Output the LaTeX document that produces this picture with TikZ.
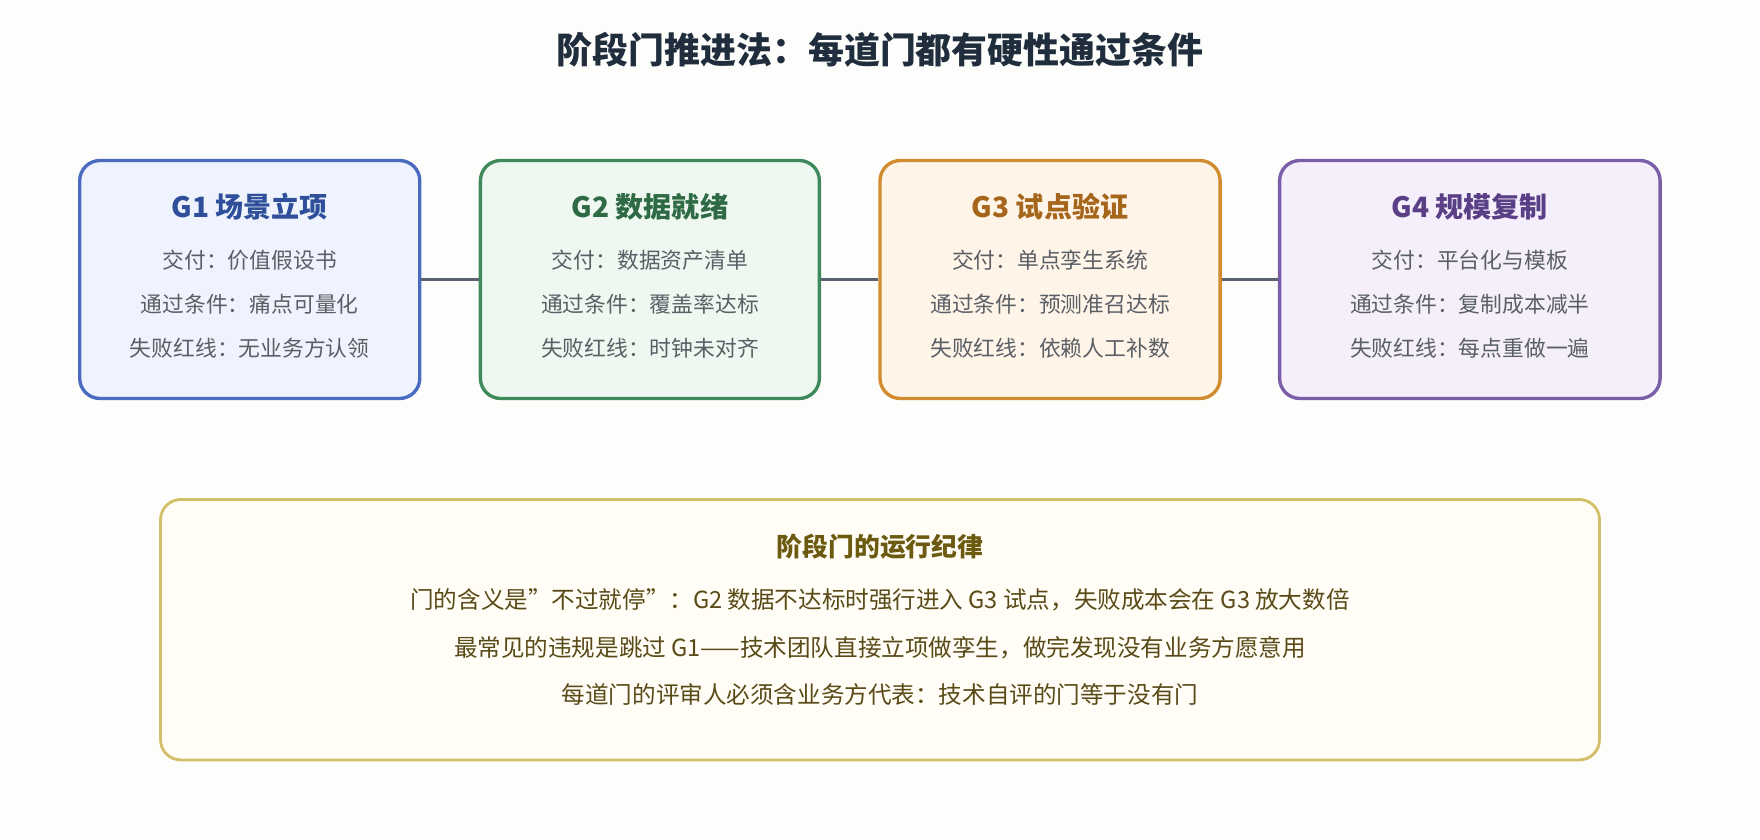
\documentclass[tikz,border=0pt]{standalone}
\usepackage{fontspec}
\setmainfont{Noto Sans CJK SC}
\usetikzlibrary{positioning}
\definecolor{bgc}{HTML}{FDFDFB}
\definecolor{titc}{HTML}{1F2D3D}
\definecolor{txtc}{HTML}{5A5F66}
\definecolor{linkc}{HTML}{5A6272}
\definecolor{fa}{HTML}{EEF3FD}\definecolor{da}{HTML}{4A6BBF}\definecolor{ta}{HTML}{2F4F9A}
\definecolor{fb}{HTML}{EEF8F1}\definecolor{db}{HTML}{3F8A5C}\definecolor{tb}{HTML}{2E6B45}
\definecolor{fc}{HTML}{FFF4E8}\definecolor{dc}{HTML}{D08C2E}\definecolor{tc}{HTML}{A5651A}
\definecolor{fd}{HTML}{F4EFFA}\definecolor{dd}{HTML}{7B5EA8}\definecolor{td}{HTML}{5B3F86}
\definecolor{fn}{HTML}{FFFDF5}\definecolor{dn}{HTML}{D4BF6A}\definecolor{tn}{HTML}{6B5A10}\definecolor{nn}{HTML}{5A4A18}
\tikzset{
  gate/.style={draw, line width=3pt, rounded corners=18pt, minimum height=212pt, inner sep=0pt},
  gtitle/.style={font=\fontsize{25}{29}\selectfont\bfseries},
  gline/.style={font=\fontsize{19.4}{23}\selectfont, text=txtc},
  link/.style={draw=linkc, line width=3pt},
  nline/.style={font=\fontsize{21}{25}\selectfont, text=nn}
}
\begin{document}
\begin{tikzpicture}[x=1pt,y=-1pt]
\fill[bgc] (0,0) rectangle (1568,748);
\useasboundingbox (0,0) rectangle (1568,748);

% Title
\node[font=\fontsize{32}{38}\selectfont\bfseries, text=titc] (title) at (784,44) {阶段门推进法：每道门都有硬性通过条件};

% Gate 1
\node[gate, draw=da, fill=fa, minimum width=303pt] (g1) at (222.5,249) {};
\node[gtitle, text=ta] (g1t) at (222.5,184) {G1 场景立项};
\node[gline] (g1a) at (222.5,232) {交付：价值假设书};
\node[gline] (g1b) at (222.5,271) {通过条件：痛点可量化};
\node[gline] (g1c) at (222.5,310) {失败红线：无业务方认领};

% Gate 2
\node[gate, draw=db, fill=fb, minimum width=302pt] (g2) at (579,249) {};
\node[gtitle, text=tb] (g2t) at (579,184) {G2 数据就绪};
\node[gline] (g2a) at (579,232) {交付：数据资产清单};
\node[gline] (g2b) at (579,271) {通过条件：覆盖率达标};
\node[gline] (g2c) at (579,310) {失败红线：时钟未对齐};

% Gate 3
\node[gate, draw=dc, fill=fc, minimum width=303pt] (g3) at (935.5,249) {};
\node[gtitle, text=tc] (g3t) at (935.5,184) {G3 试点验证};
\node[gline] (g3a) at (935.5,232) {交付：单点孪生系统};
\node[gline] (g3b) at (935.5,271) {通过条件：预测准召达标};
\node[gline] (g3c) at (935.5,310) {失败红线：依赖人工补数};

% Gate 4
\node[gate, draw=dd, fill=fd, minimum width=339pt] (g4) at (1309.5,249) {};
\node[gtitle, text=td] (g4t) at (1309.5,184) {G4 规模复制};
\node[gline] (g4a) at (1309.5,232) {交付：平台化与模板};
\node[gline] (g4b) at (1309.5,271) {通过条件：复制成本减半};
\node[gline] (g4c) at (1309.5,310) {失败红线：每点重做一遍};

% Links
\draw[link] (g1.east) -- (g2.west);
\draw[link] (g2.east) -- (g3.west);
\draw[link] (g3.east) -- (g4.west);

% Note
\node[draw=dn, fill=fn, line width=2.5pt, rounded corners=18pt, minimum width=1282pt, minimum height=232pt] (note) at (784,561) {};
\node[font=\fontsize{23}{27}\selectfont\bfseries, text=tn] (notet) at (784,487) {阶段门的运行纪律};
\node[nline] (n1) at (784,534) {门的含义是{\char"22}不过就停{\char"22}：G2 数据不达标时强行进入 G3 试点，失败成本会在 G3 放大数倍};
\node[nline] (n2) at (784,577) {最常见的违规是跳过 G1——技术团队直接立项做孪生，做完发现没有业务方愿意用};
\node[nline] (n3) at (784,619) {每道门的评审人必须含业务方代表：技术自评的门等于没有门};
\end{tikzpicture}
\end{document}
